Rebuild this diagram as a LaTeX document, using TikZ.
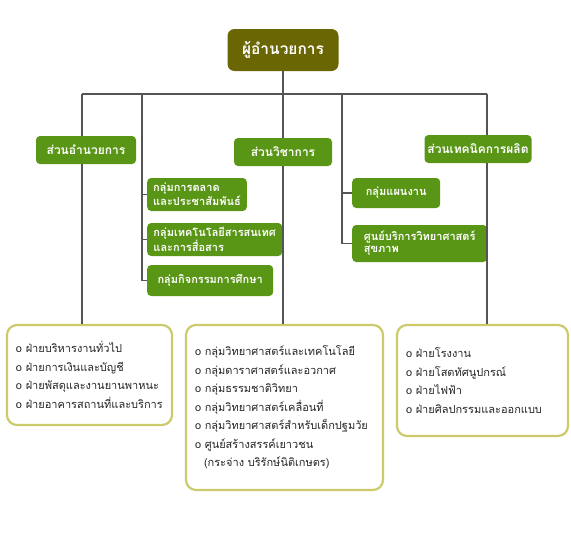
\documentclass[tikz,border=0pt]{standalone}
\usepackage{fontspec}
\newfontfamily\thai[Script=Thai]{Loma}
\usetikzlibrary{positioning,calc}
\definecolor{olive}{HTML}{6B6604}
\definecolor{leaf}{HTML}{5A9616}
\definecolor{wire}{HTML}{555555}
\definecolor{straw}{HTML}{CDCA6C}
\definecolor{inktext}{HTML}{262626}

\begin{document}
\begin{tikzpicture}[
  x=1pt, y=-1pt,
  font=\thai,
  head/.style={rounded corners=7pt, fill=olive, text=white, font=\thai\bfseries\fontsize{15.5}{17}\selectfont,
    minimum width=111pt, minimum height=42pt, inner sep=2pt},
  sect/.style={rounded corners=4pt, fill=leaf, text=white, font=\thai\bfseries\fontsize{12}{13}\selectfont,
    minimum height=28pt, inner sep=2pt},
  grp/.style={sect, anchor=west, align=left, inner xsep=6pt, font=\thai\bfseries\fontsize{11}{12}\selectfont},
  lst/.style={rounded corners=10pt, draw=straw, line width=2.2pt, fill=white, align=left, text=inktext,
    font=\thai\fontsize{11}{18.5}\selectfont, inner xsep=9pt},
  wire/.style={draw=wire, line width=1.5pt},
]
\useasboundingbox (0,0) rectangle (571,544);

% ---------- head ----------
\node[head] (D) at (283,50) {ผู้อำนวยการ};

% ---------- sections ----------
\node[sect, minimum width=100pt] (S1) at (86,150) {ส่วนอำนวยการ};
\node[sect, minimum width=98pt]  (S2) at (283,152) {ส่วนวิชาการ};
\node[sect, minimum width=107pt] (S3) at (478,149) {ส่วนเทคนิคการผลิต};

% ---------- groups ----------
\node[grp, minimum width=93pt,  minimum height=33pt] (G1) at (147,194.5) {กลุ่มการตลาด\\และประชาสัมพันธ์};
\node[grp, minimum width=135pt, minimum height=33pt] (G2) at (147,239.5) {กลุ่มเทคโนโลยีสารสนเทศ\\และการสื่อสาร};
\node[grp, minimum width=126pt, minimum height=31pt] (G3) at (147,280.5) {กลุ่มกิจกรรมการศึกษา};
\node[grp, minimum width=88pt,  minimum height=30pt] (H1) at (352,193) {กลุ่มแผนงาน};
\node[grp, minimum width=135pt, minimum height=37pt] (H2) at (352,243.5) {ศูนย์บริการวิทยาศาสตร์\\สุขภาพ};

% ---------- lists ----------
\node[lst, minimum width=165pt, minimum height=100pt, text width=147pt] (L1) at (89.5,375)
  {o ฝ่ายบริหารงานทั่วไป\\o ฝ่ายการเงินและบัญชี\\o ฝ่ายพัสดุและงานยานพาหนะ\\o ฝ่ายอาคารสถานที่และบริการ};
\node[lst, minimum width=197pt, minimum height=165pt, text width=179pt] (L2) at (284.5,407.5)
  {o กลุ่มวิทยาศาสตร์และเทคโนโลยี\\o กลุ่มดาราศาสตร์และอวกาศ\\o กลุ่มธรรมชาติวิทยา\\o กลุ่มวิทยาศาสตร์เคลื่อนที่\\o กลุ่มวิทยาศาสตร์สำหรับเด็กปฐมวัย\\o ศูนย์สร้างสรรค์เยาวชน\\\hspace*{9pt}(กระจ่าง บริรักษ์นิติเกษตร)};
\node[lst, minimum width=171pt, minimum height=111pt, text width=153pt] (L3) at (482.5,380.5)
  {o ฝ่ายโรงงาน\\o ฝ่ายโสตทัศนูปกรณ์\\o ฝ่ายไฟฟ้า\\o ฝ่ายศิลปกรรมและออกแบบ};

% ---------- bar coordinates ----------
\coordinate (v1) at (82,94);
\coordinate (v2) at (142,94);
\coordinate (v3) at (283,94);
\coordinate (v4) at (342,94);
\coordinate (v5) at (487,94);

% ---------- edges ----------
\draw[wire] (D.south) -- (v3);
\draw[wire] (v1) -- (v5);
% left column
\draw[wire] (v1) -- (v1|-S1.north);
\draw[wire] (v1|-S1.south) -- (v1|-L1.north);
\draw[wire] (v2) |- (G3.west);
\draw[wire] (v2|-G1.west) -- (G1.west);
\draw[wire] (v2|-G2.west) -- (G2.west);
% middle column
\draw[wire] (v3) -- (S2.north);
\draw[wire] (S2.south) -- (S2.south|-L2.north);
\draw[wire] (v4) |- (H2.west);
\draw[wire] (v4|-H1.west) -- (H1.west);
% right column
\draw[wire] (v5) -- (v5|-S3.north);
\draw[wire] (v5|-S3.south) -- (v5|-L3.north);

\end{tikzpicture}
\end{document}
